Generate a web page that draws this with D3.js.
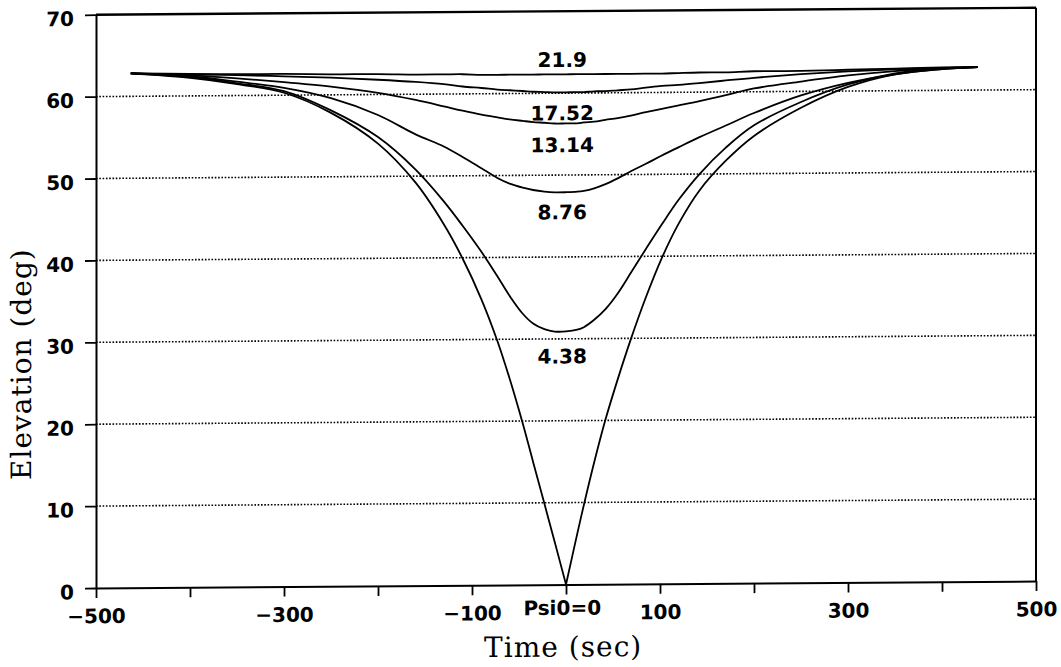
<!DOCTYPE html>
<html>
<head>
<meta charset="utf-8">
<title>Elevation vs Time</title>
<script src="https://d3js.org/d3.v7.min.js"></script>
<style>
  body { margin: 0; background: #fff; }
  svg { display: block; }
  .tick text { font-family: "DejaVu Sans", sans-serif; font-weight: bold; font-size: 20px; fill: #000; }
  .axis-title { font-family: "DejaVu Serif", serif; font-size: 28px; letter-spacing: 1px; fill: #000; }
  .curve-label { font-family: "DejaVu Sans", sans-serif; font-weight: bold; font-size: 20px; text-anchor: middle; fill: #000; }
</style>
</head>
<body>
<div id="chart"></div>
<script>
// time grid (sec) shared by every curve
const timeSec = [-463, -400, -350, -300, -250, -200, -160, -130, -110, -90, -73, -60, -46, -35, -23, -12,
                 0, 12, 19, 30, 42, 55, 69, 85, 102, 120, 142, 170, 200, 250, 300, 350, 400, 438];

// elevation (deg) for each Psi0
const elevPsi0 = [62.8, 62.2, 61.4, 60.3, 57.8, 54.0, 49.2, 44.1, 39.9, 34.9, 29.8, 25.2, 19.7, 15.0, 9.9, 5.2,
                  0.0, 6.2, 9.7, 14.9, 20.1, 25.0, 29.9, 35.0, 39.8, 44.0, 48.0, 51.6, 54.6, 58.0, 60.5, 62.0, 62.6, 62.8];
const elevPsi438 = [62.8, 62.3, 61.5, 60.5, 58.1, 54.8, 50.8, 46.9, 43.9, 40.7, 37.7, 35.3, 33.1, 31.9, 31.2, 30.9,
                    30.9, 31.1, 31.4, 32.3, 33.6, 35.5, 38.0, 40.9, 43.9, 46.9, 50.0, 53.2, 55.9, 58.7, 60.8, 62.1, 62.7, 62.8];
const elevPsi876 = [62.8, 62.4, 61.7, 60.9, 59.6, 57.5, 55.1, 53.6, 52.3, 50.9, 49.7, 49.0, 48.5, 48.2, 48.0, 47.9,
                    47.9, 47.95, 48.05, 48.35, 48.85, 49.55, 50.4, 51.3, 52.3, 53.3, 54.5, 55.9, 57.4, 59.5, 61.0, 62.0, 62.6, 62.8];
const elevPsi1314 = [62.8, 62.5, 62.1, 61.6, 61.0, 60.2, 59.3, 58.5, 57.95, 57.45, 57.1, 56.85, 56.65, 56.5, 56.4, 56.3,
                     56.3, 56.3, 56.4, 56.5, 56.7, 56.9, 57.2, 57.6, 58.0, 58.4, 58.9, 59.6, 60.4, 61.2, 61.9, 62.4, 62.7, 62.8];
const elevPsi1752 = [62.8, 62.6, 62.5, 62.3, 62.1, 61.8, 61.5, 61.2, 60.9, 60.7, 60.5, 60.4, 60.3, 60.2, 60.15, 60.1,
                     60.1, 60.1, 60.1, 60.2, 60.2, 60.3, 60.4, 60.6, 60.8, 60.9, 61.1, 61.4, 61.7, 62.1, 62.4, 62.6, 62.7, 62.8];
const elevPsi219 = [62.8, 62.7, 62.6, 62.6, 62.5, 62.5, 62.4, 62.4, 62.4, 62.3, 62.3, 62.3, 62.3, 62.3, 62.3, 62.3,
                    62.3, 62.3, 62.3, 62.3, 62.3, 62.3, 62.3, 62.3, 62.3, 62.35, 62.4, 62.4, 62.5, 62.5, 62.6, 62.7, 62.8, 62.8];

const psiNames = ["Psi0=0", "4.38", "8.76", "13.14", "17.52", "21.9"];
const xTicks = [-500, -400, -300, -200, -100, 0, 100, 200, 300, 400, 500];
const xLabels = ["\u2212500", "", "\u2212300", "", "\u2212100", "", "100", "", "300", "", "500"];
const yTicks = [0, 10, 20, 30, 40, 50, 60, 70];

const series = [elevPsi0, elevPsi438, elevPsi876, elevPsi1314, elevPsi1752, elevPsi219];
// label anchors (elevation of each label baseline, at t = -4)
const labelElev = [-3.7, 27.0, 44.6, 52.8, 56.7, 63.2];

const W = 1061, H = 667;
const x = d3.scaleLinear().domain([-500, 500]).range([96, 1036]);
const y = d3.scaleLinear().domain([0, 70]).range([588, 14.7]);

const svg = d3.select("#chart").append("svg")
    .attr("width", W)
    .attr("height", H);

svg.append("rect").attr("width", W).attr("height", H).attr("fill", "#fff");

// whole plate leans slightly, right side higher
const g = svg.append("g")
    .attr("transform", "translate(96,588) matrix(1,-0.0074,0,1,0,0) translate(-96,-588)");

// dotted grid
g.append("g").selectAll("line")
    .data(yTicks.filter(v => v > 0 && v < 70))
    .enter().append("line")
    .attr("x1", x(-500)).attr("x2", x(500))
    .attr("y1", d => y(d)).attr("y2", d => y(d))
    .attr("stroke", "#000")
    .attr("stroke-width", 1.6)
    .attr("stroke-dasharray", "1.6,1.7");

// frame top and right
g.append("line")
    .attr("x1", x(-500)).attr("x2", x(500))
    .attr("y1", y(70)).attr("y2", y(70))
    .attr("stroke", "#000").attr("stroke-width", 2.4);
g.append("line")
    .attr("x1", x(500)).attr("x2", x(500))
    .attr("y1", y(70)).attr("y2", y(0))
    .attr("stroke", "#000").attr("stroke-width", 2);

const xAxis = g.append("g")
    .attr("transform", `translate(0,${y(0)})`)
    .call(d3.axisBottom(x).tickValues(xTicks).tickSize(10).tickSizeOuter(0).tickPadding(11)
        .tickFormat((d, i) => xLabels[i]));

const yAxis = g.append("g")
    .attr("transform", `translate(${x(-500)},0)`)
    .call(d3.axisLeft(y).tickValues(yTicks).tickSize(11).tickSizeOuter(0).tickPadding(11));
yAxis.selectAll(".tick text").attr("dy", "0.53em");

[xAxis, yAxis].forEach(a => {
    a.select(".domain").attr("stroke", "#000").attr("stroke-width", 2);
    a.selectAll(".tick line").attr("stroke", "#000").attr("stroke-width", 1.8);
});

// curves
const line = d3.line()
    .x(d => x(d[0]))
    .y(d => y(d[1]))
    .curve(d3.curveCatmullRom.alpha(0.5));

const zeroIdx = timeSec.indexOf(0);
series.forEach((vals, k) => {
    const pts = timeSec.map((t, i) => [t, vals[i]]);
    // Psi0=0 has a sharp vertex at t = 0
    const parts = k === 0 ? [pts.slice(0, zeroIdx + 1), pts.slice(zeroIdx)] : [pts];
    parts.forEach(p => {
        g.append("path")
            .attr("d", line(p))
            .attr("fill", "none")
            .attr("stroke", "#000")
            .attr("stroke-width", 1.8);
    });
});

// curve labels
g.append("g").selectAll("text")
    .data(psiNames)
    .enter().append("text")
    .attr("class", "curve-label")
    .attr("x", x(-4))
    .attr("y", (d, i) => y(labelElev[i]))
    .text(d => d);

// axis titles
g.append("text")
    .attr("class", "axis-title")
    .attr("x", x(-3))
    .attr("y", 660)
    .attr("text-anchor", "middle")
    .text("Time (sec)");

g.append("text")
    .attr("class", "axis-title")
    .attr("transform", `translate(31,${y(27.4)}) rotate(-90)`)
    .attr("text-anchor", "middle")
    .text("Elevation (deg)");
</script>
</body>
</html>
